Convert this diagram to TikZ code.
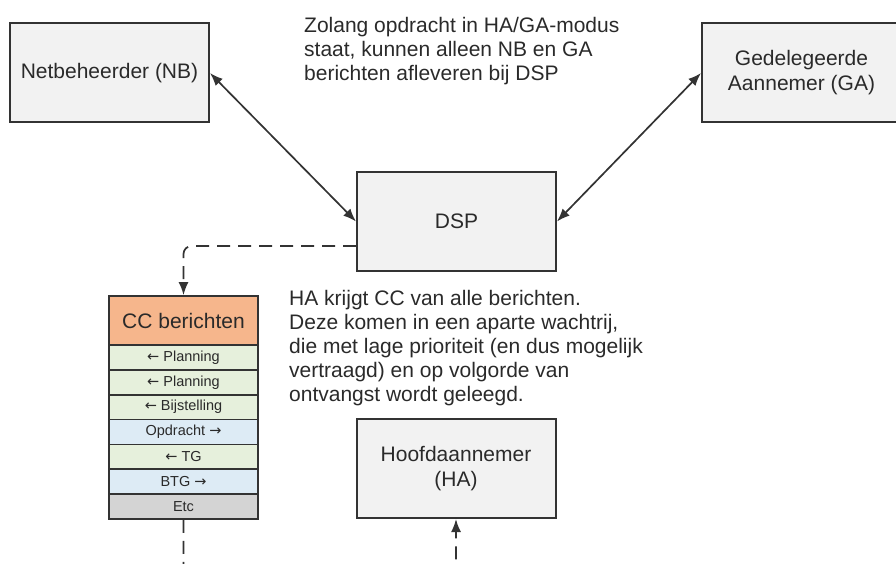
\documentclass[tikz,border=0pt]{standalone}
\usepackage{fontspec}
\setmainfont{Liberation Sans}
\newfontfamily\arrowfont{DejaVu Sans}
\usetikzlibrary{arrows.meta}
\definecolor{boxgray}{HTML}{F2F2F2}
\definecolor{boxline}{HTML}{333333}
\definecolor{txtgray}{HTML}{2A2A2A}
\definecolor{ccorange}{HTML}{F6B68C}
\definecolor{ccgreen}{HTML}{E6F0DC}
\definecolor{ccblue}{HTML}{DDEBF5}
\definecolor{ccetc}{HTML}{D4D4D4}
\def\la{{\arrowfont ←}}
\def\ra{{\arrowfont →}}

\begin{document}
\begin{tikzpicture}[x=1pt, y=-1pt,
		box/.style={draw=boxline, fill=boxgray, line width=2pt, minimum width=199, minimum height=99, align=center, text=txtgray, font=\fontsize{21}{25}\selectfont},
		ccrow/.style={draw=boxline, line width=1.8pt, minimum width=149, minimum height=24.86, inner sep=0pt, text=txtgray, font=\fontsize{14.5}{16}\selectfont},
		link/.style={line width=1.7pt, draw=boxline, {Latex[length=13pt,width=10pt]}-{Latex[length=13pt,width=10pt]}},
		dashlink/.style={line width=1.7pt, draw=boxline, dash pattern=on 13pt off 8pt, rounded corners=8pt, -{Latex[length=13pt,width=10pt]}},
		note/.style={anchor=north west, inner sep=0pt, align=left, text=txtgray, font=\fontsize{21}{24}\selectfont}]
			%%%%% START %%%%%
			
			\useasboundingbox (0, 0) rectangle (896, 564);
			\clip (0, 0) rectangle (896, 564);
			
			\node[box] (nb) at (109.5, 73) {Netbeheerder (NB)};
			\node[box] (ga) at (801.5, 73) {Gedelegeerde\\Aannemer (GA)};
			\node[box] (dsp) at (456.5, 221.5) {DSP};
			\node[box] (ha) at (456, 468.5) {Hoofdaannemer\\(HA)};
			
			\node[note] (modus) at (304, 17.5) {Zolang opdracht in HA/GA-modus\\staat, kunnen alleen NB en GA\\berichten afleveren bij DSP};
			\node[note] (ccnote) at (289, 290.5) {HA krijgt CC van alle berichten.\\Deze komen in een aparte wachtrij,\\die met lage prioriteit (en dus mogelijk\\vertraagd) en op volgorde van\\ontvangst wordt geleegd.};
			
			\node[ccrow, fill=ccorange, minimum height=49, font=\fontsize{21}{24}\selectfont] (cc) at (183.5, 320.5) {CC berichten};
			\foreach \lbl/\col [count=\i] in {{\la{} Planning}/ccgreen, {\la{} Planning}/ccgreen, {\la{} Bijstelling}/ccgreen, {Opdracht \ra}/ccblue, {\la{} TG}/ccgreen, {BTG \ra}/ccblue, {Etc}/ccetc}
				\node[ccrow, fill=\col] (r\i) at (183.5, {345 + 24.86*(\i - 0.5)}) {\lbl};
			
			\draw[link] (nb.east) -- (dsp.west);
			\draw[link] (ga.west) -- (dsp.east);
			
			\draw[dashlink] ([yshift=-24.5pt]dsp.west) -| (cc.north);
			\draw[dashlink] (r7.south) -- ++(0, 55) -| (ha.south);
			
			%%%%% END %%%%%
		\end{tikzpicture}
\end{document}
